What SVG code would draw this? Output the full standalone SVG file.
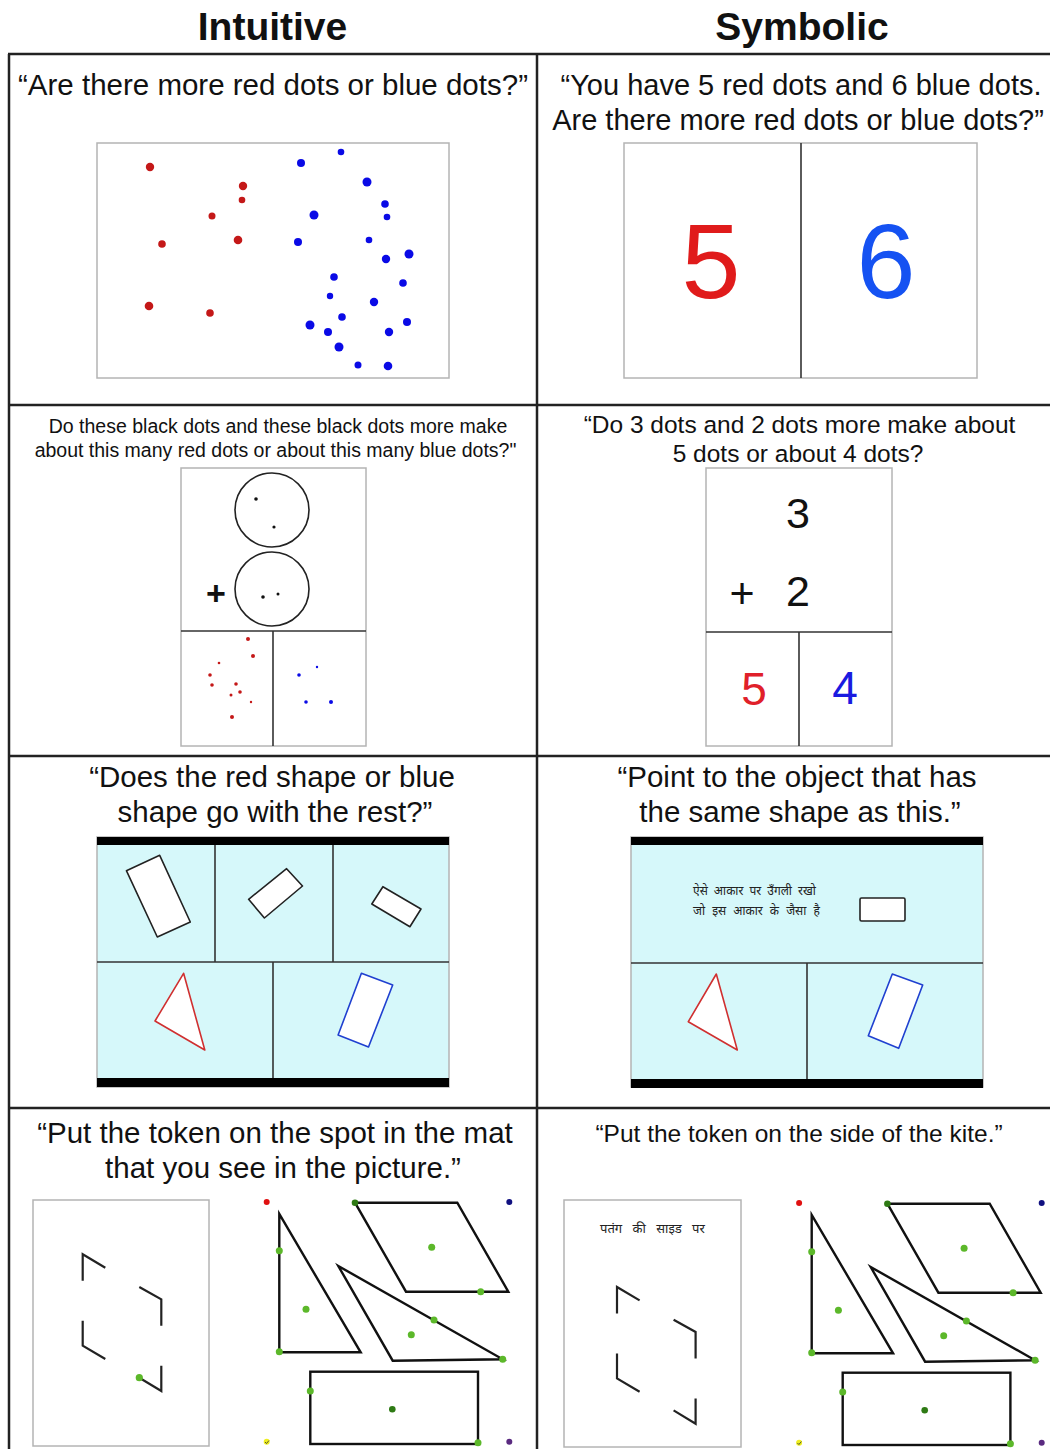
<svg xmlns="http://www.w3.org/2000/svg" xmlns:xlink="http://www.w3.org/1999/xlink" width="1050" height="1449" viewBox="0 0 1050 1449">
<style>
.t{font-family:"Liberation Sans",Arial,Helvetica,sans-serif;fill:#111;text-anchor:middle}
.h{font-weight:bold;font-size:39px}
.big{font-size:29.5px}
.big2{font-size:29px}
.mid{font-size:24.5px}
.sm{font-size:19.5px}
.grid{stroke:#222;stroke-width:2.5;fill:none}
.panel{fill:#fff;stroke:#b4b4b4;stroke-width:1.5}
.div{stroke:#333;stroke-width:1.6;fill:none}
.shape{fill:#fff;stroke:#222;stroke-width:1.6;stroke-linejoin:round}
.cyan{fill:#d6f8fa;stroke:#b4b4b4;stroke-width:1.5}
.mats{fill:none;stroke:#111;stroke-width:2.4;stroke-linejoin:miter}
.corner{fill:none;stroke:#222;stroke-width:2.2}
.rd{fill:#c41818}
.bd{fill:#0a0ae6}
.g{fill:#5cb82a}
.dg{fill:#2e7a14}
.hi{font-family:"Noto Sans Devanagari","Lohit Devanagari","Noto Sans",sans-serif;fill:#222;text-anchor:start}
</style>
<defs>
<g id="mat">
<circle cx="266.7" cy="1202" r="3" fill="#e01010"/>
<circle cx="509.3" cy="1202" r="3" fill="#101080"/>
<circle cx="266.7" cy="1441.7" r="3" fill="#eeee20"/>
<path d="M265 1442 l1.5 1.5 l2.5 -3" stroke="#333" stroke-width="0.8" fill="none"/>
<circle cx="509.3" cy="1441.7" r="3" fill="#5a2a80"/>
<polygon class="mats" points="279.3,1214 279.3,1352.3 360.7,1352.3"/>
<polygon class="mats" points="355,1202.7 457.3,1202.7 508.3,1291.7 406,1291.7"/>
<polygon class="mats" points="338.3,1266 502.7,1359.3 392.7,1360.7"/>
<rect class="mats" x="310.3" y="1371.7" width="167.7" height="72.3"/>
<circle class="g" cx="279.3" cy="1250.7" r="3.5"/>
<circle class="g" cx="306" cy="1309.3" r="3.5"/>
<circle class="g" cx="279.3" cy="1351.7" r="3.5"/>
<circle class="dg" cx="355" cy="1202.7" r="3.3"/>
<circle class="g" cx="431.7" cy="1247.3" r="3.5"/>
<circle class="g" cx="480.7" cy="1291.7" r="3.5"/>
<circle class="g" cx="434" cy="1320" r="3.5"/>
<circle class="g" cx="411.3" cy="1334.7" r="3.5"/>
<circle class="g" cx="502.7" cy="1359.3" r="3.5"/>
<circle class="g" cx="310.3" cy="1391" r="3.5"/>
<circle class="dg" cx="392.3" cy="1409.3" r="3.3"/>
<circle class="g" cx="478" cy="1442.7" r="3.5"/>
</g>
<g id="corners">
<polyline class="corner" points="82.7,1280.7 82.7,1254.3 105.3,1267.7"/>
<polyline class="corner" points="139.3,1287 161.3,1299.3 161.3,1325.7"/>
<polyline class="corner" points="82.7,1320.7 82.7,1345.7 105.3,1359"/>
<polyline class="corner" points="139.3,1377.7 161.3,1391 161.3,1365.7"/>
</g>
</defs>

<rect x="0" y="0" width="1050" height="1449" fill="#fff"/>

<g id="headers">
<text class="t h" x="272.5" y="40">Intuitive</text>
<text class="t h" x="802" y="40">Symbolic</text>
</g>

<g id="grid">
<line class="grid" x1="8" y1="54" x2="1050" y2="54"/>
<line class="grid" x1="9" y1="54" x2="9" y2="1449"/>
<line class="grid" x1="537" y1="54" x2="537" y2="1449"/>
<line class="grid" x1="8" y1="405" x2="1050" y2="405"/>
<line class="grid" x1="8" y1="756" x2="1050" y2="756"/>
<line class="grid" x1="8" y1="1108" x2="1050" y2="1108"/>
</g>

<g id="r1-intuitive">
<text class="t big" x="273" y="95">“Are there more red dots or blue dots?”</text>
<rect class="panel" x="97" y="143" width="352" height="235"/>
<g class="rd">
<circle cx="150" cy="167" r="4.2"/><circle cx="243" cy="186" r="4.2"/><circle cx="242" cy="200" r="3.3"/><circle cx="212" cy="216" r="3.5"/>
<circle cx="162" cy="244" r="3.8"/><circle cx="238" cy="240" r="4.3"/><circle cx="149" cy="306" r="4.3"/><circle cx="210" cy="313" r="3.8"/>
</g>
<g class="bd">
<circle cx="341" cy="152" r="3.3"/><circle cx="301" cy="163" r="4"/><circle cx="367" cy="182" r="4.5"/><circle cx="385" cy="204" r="3.8"/>
<circle cx="387" cy="217" r="3.3"/><circle cx="314" cy="215" r="4.5"/><circle cx="298" cy="242" r="4"/><circle cx="369" cy="240" r="3.3"/>
<circle cx="409" cy="254" r="4.5"/><circle cx="386" cy="259" r="4.2"/><circle cx="334" cy="277" r="3.8"/><circle cx="403" cy="283" r="3.8"/>
<circle cx="330" cy="296" r="3.2"/><circle cx="374" cy="302" r="4.2"/><circle cx="342" cy="317" r="3.8"/><circle cx="407" cy="322" r="4"/>
<circle cx="310" cy="325" r="4.5"/><circle cx="328" cy="332" r="4"/><circle cx="389" cy="332" r="4.2"/><circle cx="339" cy="347" r="4.5"/>
<circle cx="358" cy="365" r="3.5"/><circle cx="388" cy="366" r="4.3"/>
</g>
</g>

<g id="r1-symbolic">
<text class="t big2" x="801" y="95">“You have 5 red dots and 6 blue dots.</text>
<text class="t big2" x="798" y="130">Are there more red dots or blue dots?”</text>
<rect class="panel" x="624" y="143" width="353" height="235"/>
<line class="div" x1="801" y1="143" x2="801" y2="378"/>
<text class="t" x="711" y="298" font-size="106" style="fill:#e01b1b">5</text>
<text class="t" x="886" y="298" font-size="106" style="fill:#1552f2">6</text>
</g>

<g id="r2-intuitive">
<text class="t sm" x="278" y="433">Do these black dots and these black dots more make</text>
<text class="t sm" x="275.5" y="457">about this many red dots or about this many blue dots?"</text>
<rect class="panel" x="181" y="468" width="185" height="278"/>
<line class="div" x1="181" y1="631" x2="366" y2="631"/>
<line class="div" x1="273" y1="631" x2="273" y2="746"/>
<circle cx="272" cy="510" r="37" fill="none" stroke="#222" stroke-width="1.6"/>
<circle cx="272" cy="589" r="37" fill="none" stroke="#222" stroke-width="1.6"/>
<g fill="#111">
<circle cx="256" cy="499" r="1.8"/><circle cx="274" cy="527" r="1.6"/>
<circle cx="263" cy="597" r="1.8"/><circle cx="278" cy="594" r="1.5"/>
</g>
<text class="t" x="216" y="605" font-size="34" font-weight="bold">+</text>
<g class="rd">
<circle cx="248" cy="639" r="2"/><circle cx="253" cy="656" r="2"/><circle cx="219" cy="663" r="1.3"/><circle cx="210" cy="675" r="1.8"/>
<circle cx="212" cy="685" r="1.8"/><circle cx="236" cy="684" r="1.8"/><circle cx="240" cy="692" r="1.8"/><circle cx="231" cy="695" r="1.5"/>
<circle cx="251" cy="702" r="1.2"/><circle cx="232" cy="717" r="2"/>
</g>
<g class="bd">
<circle cx="317" cy="667" r="1.2"/><circle cx="299" cy="675" r="1.8"/><circle cx="306" cy="702" r="1.8"/><circle cx="331" cy="702" r="2"/>
</g>
</g>

<g id="r2-symbolic">
<text class="t mid" x="799.5" y="433">“Do 3 dots and 2 dots more make about</text>
<text class="t mid" x="798" y="462">5 dots or about 4 dots?</text>
<rect class="panel" x="706" y="468" width="186" height="278"/>
<line class="div" x1="706" y1="632" x2="892" y2="632"/>
<line class="div" x1="799" y1="632" x2="799" y2="746"/>
<text class="t" x="798" y="528" font-size="43">3</text>
<text class="t" x="798" y="606" font-size="43">2</text>
<text class="t" x="742" y="608" font-size="43">+</text>
<text class="t" x="754" y="705" font-size="46" style="fill:#e0202a">5</text>
<text class="t" x="845" y="704" font-size="46" style="fill:#1a1ae0">4</text>
</g>

<g id="r3-intuitive">
<text class="t big" x="272" y="787">“Does the red shape or blue</text>
<text class="t big" x="275" y="822">shape go with the rest?”</text>
<rect class="cyan" x="97" y="837" width="352" height="250"/>
<rect x="97" y="837" width="352" height="8" fill="#000"/>
<rect x="97" y="1078" width="352" height="9" fill="#000"/>
<line class="div" x1="97" y1="962" x2="449" y2="962"/>
<line class="div" x1="215" y1="845" x2="215" y2="962"/>
<line class="div" x1="333" y1="845" x2="333" y2="962"/>
<line class="div" x1="273" y1="962" x2="273" y2="1078"/>
<polygon class="shape" points="126.4,870.7 159.7,855.3 190.3,922 157.3,937"/>
<polygon class="shape" points="248.6,899.3 286.6,868.7 302.5,886 264.4,918"/>
<polygon class="shape" points="371.8,904 382.9,886.7 421,909 409.9,926.7"/>
<polygon class="shape" style="stroke:#d03030" points="183.6,973.3 155,1021 204.8,1050"/>
<polygon class="shape" style="stroke:#2040d0" points="361.4,973.3 392.7,985 368.5,1047 338.1,1035"/>
</g>

<g id="r3-symbolic">
<text class="t big" x="797" y="787">“Point to the object that has</text>
<text class="t big" x="800" y="822">the same shape as this.”</text>
<rect class="cyan" x="631" y="837" width="352" height="250"/>
<rect x="631" y="837" width="352" height="8" fill="#000"/>
<rect x="631" y="1079" width="352" height="9" fill="#000"/>
<line class="div" x1="631" y1="963" x2="983" y2="963"/>
<line class="div" x1="807" y1="963" x2="807" y2="1079"/>
<text class="hi" x="693" y="895" font-size="12" word-spacing="3">ऐसे आकार पर उँगली रखो</text>
<text class="hi" x="693" y="915" font-size="12" word-spacing="4">जो इस आकार के जैसा है</text>
<rect class="shape" x="860" y="898" width="45" height="23" rx="1.5"/>
<polygon class="shape" style="stroke:#d03030" points="716.3,974 688.3,1021.7 737.3,1050"/>
<polygon class="shape" style="stroke:#2040d0" points="892.3,974 922.7,985 898.7,1048.3 868.3,1035.7"/>
</g>

<g id="r4-intuitive">
<text class="t big" x="275" y="1143">“Put the token on the spot in the mat</text>
<text class="t big" x="283" y="1178">that you see in the picture.”</text>
<rect class="panel" x="33" y="1200" width="176" height="246"/>
<use xlink:href="#corners"/>
<circle class="g" cx="139.3" cy="1377.7" r="3.6"/>
<use xlink:href="#mat"/>
</g>

<g id="r4-symbolic">
<text class="t mid" x="799" y="1142">“Put the token on the side of the kite.”</text>
<rect class="panel" x="564" y="1200" width="177" height="247"/>
<text class="hi" x="600" y="1233" font-size="13" word-spacing="7">पतंग की साइड पर</text>
<use xlink:href="#corners" transform="translate(534.3,32.7)"/>
<use xlink:href="#mat" transform="translate(532.4,1)"/>
</g>
</svg>
